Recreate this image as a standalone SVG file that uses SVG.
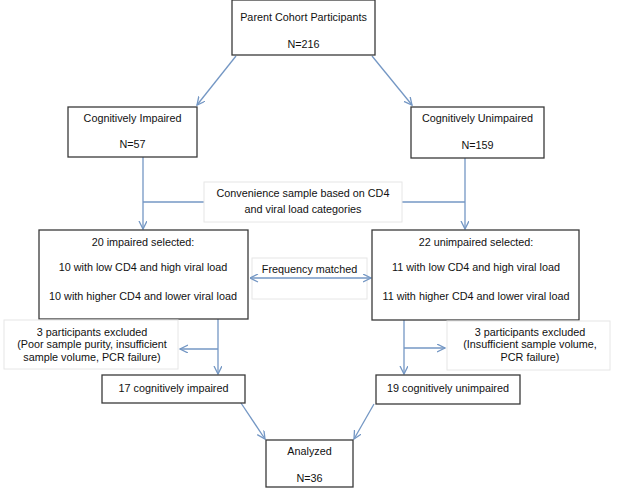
<svg xmlns="http://www.w3.org/2000/svg" width="617" height="494" viewBox="0 0 617 494">
<style>
.box{fill:#fff;stroke:#3a3a3a;stroke-width:1.3}
.lbl{fill:#fff;stroke:#e6e6e6;stroke-width:1}
.t{font-family:"Liberation Sans",Arial,sans-serif;font-size:10.8px;fill:#111;text-anchor:middle}
.c{stroke:#7497c4;stroke-width:1.3;fill:none}
.ca{stroke:#7497c4;stroke-width:1.3;fill:none;marker-end:url(#ah)}
</style>
<defs>
<marker id="ah" markerWidth="10" markerHeight="10" refX="8" refY="4" orient="auto" markerUnits="userSpaceOnUse">
<path d="M0,0 L8,4 L0,8" fill="none" stroke="#7497c4" stroke-width="1.3"/>
</marker>
<marker id="as" markerWidth="10" markerHeight="10" refX="0" refY="4" orient="auto" markerUnits="userSpaceOnUse">
<path d="M8,0 L0,4 L8,8" fill="none" stroke="#7497c4" stroke-width="1.3"/>
</marker>
</defs>
<rect width="617" height="494" fill="#fff"/>
<g id="freq">
<rect class="lbl" x="252" y="258" width="115" height="41"/>
<text class="t" x="309.5" y="273">Frequency matched</text>
</g>
<g id="connectors">
<line class="ca" x1="236" y1="56" x2="197" y2="105"/>
<line class="ca" x1="372" y1="56" x2="412" y2="105"/>
<line class="ca" x1="143" y1="157" x2="143" y2="229"/>
<line class="ca" x1="465" y1="158" x2="465" y2="229"/>
<line class="c" x1="143" y1="202" x2="204" y2="202"/>
<line class="c" x1="402" y1="202" x2="465" y2="202"/>
<line class="ca" x1="250" y1="278" x2="371" y2="278" marker-start="url(#as)"/>
<line class="ca" x1="218" y1="319" x2="218" y2="374"/>
<line class="ca" x1="218" y1="349" x2="180" y2="349"/>
<line class="ca" x1="404" y1="320" x2="404" y2="374"/>
<line class="ca" x1="404" y1="348" x2="445" y2="348"/>
<line class="ca" x1="241" y1="403" x2="265" y2="439"/>
<line class="ca" x1="374" y1="404" x2="354" y2="439"/>
</g>
<g id="parent">
<rect class="box" x="232" y="0" width="143" height="55"/>
<text class="t" x="303.5" y="21">Parent Cohort Participants</text>
<text class="t" x="303.5" y="48">N=216</text>
</g>
<g id="impaired">
<rect class="box" x="68" y="107" width="129" height="50"/>
<text class="t" x="132.5" y="122">Cognitively Impaired</text>
<text class="t" x="132.5" y="148">N=57</text>
</g>
<g id="unimpaired">
<rect class="box" x="411" y="107" width="133" height="51"/>
<text class="t" x="477.5" y="122">Cognitively Unimpaired</text>
<text class="t" x="477.5" y="149">N=159</text>
</g>
<g id="convenience">
<rect class="lbl" x="204" y="182" width="198" height="40"/>
<text class="t" x="303" y="197">Convenience sample based on CD4</text>
<text class="t" x="303" y="213">and viral load categories</text>
</g>
<g id="sel-impaired">
<rect class="box" x="39" y="230" width="209" height="89"/>
<text class="t" x="143" y="246">20 impaired selected:</text>
<text class="t" x="143" y="271">10 with low CD4 and high viral load</text>
<text class="t" x="143" y="300">10 with higher CD4 and lower viral load</text>
</g>
<g id="sel-unimpaired">
<rect class="box" x="372" y="230" width="207" height="90"/>
<text class="t" x="476" y="246">22 unimpaired selected:</text>
<text class="t" x="476" y="271">11 with low CD4 and high viral load</text>
<text class="t" x="476" y="300">11 with higher CD4 and lower viral load</text>
</g>
<g id="excl-left">
<rect class="lbl" x="4" y="320" width="174" height="49"/>
<text class="t" x="92" y="336">3 participants excluded</text>
<text class="t" x="92" y="348">(Poor sample purity, insufficient</text>
<text class="t" x="92" y="361">sample volume, PCR failure)</text>
</g>
<g id="excl-right">
<rect class="lbl" x="447" y="321" width="163" height="49"/>
<text class="t" x="530" y="336">3 participants excluded</text>
<text class="t" x="530" y="348">(Insufficient sample volume,</text>
<text class="t" x="530" y="361">PCR failure)</text>
</g>
<g id="ci17">
<rect class="box" x="102" y="375" width="143" height="28"/>
<text class="t" x="173.5" y="392">17 cognitively impaired</text>
</g>
<g id="cu19">
<rect class="box" x="376" y="375" width="144" height="29"/>
<text class="t" x="448" y="392">19 cognitively unimpaired</text>
</g>
<g id="analyzed">
<rect class="box" x="266" y="440" width="87" height="47"/>
<text class="t" x="309.5" y="455">Analyzed</text>
<text class="t" x="309.5" y="482">N=36</text>
</g>
</svg>
